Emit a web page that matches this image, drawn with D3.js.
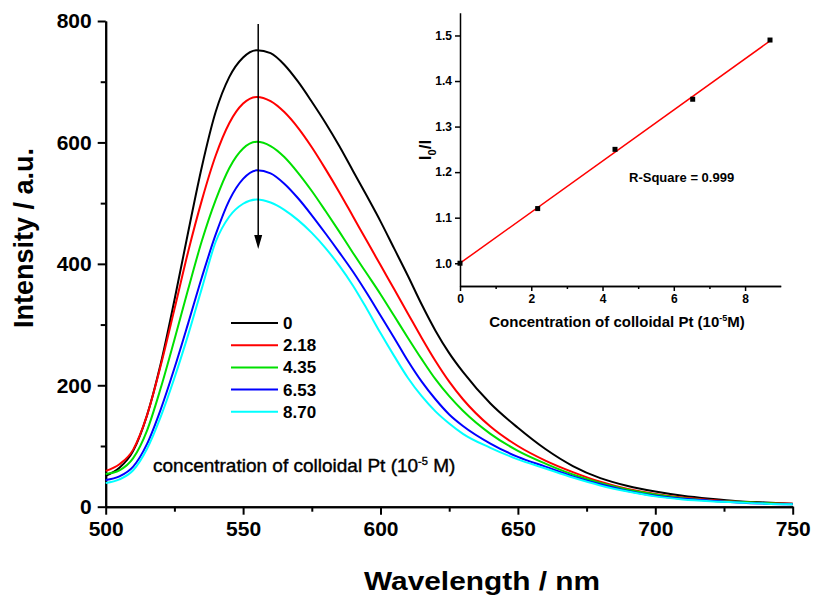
<!DOCTYPE html>
<html lang="en">
<head>
<meta charset="utf-8">
<title>Fluorescence quenching</title>
<script src="https://d3js.org/d3.v7.min.js"></script>
<style>
  html, body { margin: 0; background: #fff; }
  svg { display: block; font-family: "Liberation Sans", Arial, sans-serif; }
  .axis path, .axis line { stroke: #000; stroke-width: 2px; }
  .axis text { font-weight: bold; fill: #000; }
  .inset .axis path, .inset .axis line { stroke-width: 1.5px; }
</style>
</head>
<body>
<svg width="814" height="595"></svg>
<script>
// emission spectra, wavelength in nm
var wavelengths = [500,505,510,515,520,525,530,535,540,545,550,555,560,565,570,575,580,585,590,595,
  600,605,610,615,620,625,630,640,650,660,670,680,690,700,710,720,730,740,750];
var concLabels = ["0", "2.18", "4.35", "6.53", "8.70"];
var colors = ["#000000", "#ff0000", "#00e000", "#0000ff", "#00ffff"];
var spectra = [
  [51,64,92,150,235,340,452,560,650,708,740,752,747,728,700,667,632,594,553,512,470,425,380,333,290,253,222,170,130,95,67,47,34,25,18,13,9,7,5],
  [59,70,94,150,232,325,420,505,578,632,664,675,668,650,624,592,556,518,478,438,398,358,318,278,240,206,177,132,100,76,57,41,29,21,15,11,8,6,5],
  [54,60,80,125,195,275,358,438,505,558,590,601,594,576,550,520,487,453,418,384,350,314,278,243,210,182,158,120,92,71,53,39,28,20,14,10,8,6,4],
  [44,50,66,103,160,228,302,378,448,505,540,554,549,532,508,480,450,419,387,352,315,278,240,206,177,152,133,104,82,66,50,37,26,18,13,10,7,5,4],
  [39,45,60,95,148,212,283,360,436,478,499,506,501,489,472,451,426,397,364,326,286,248,212,182,157,137,120,97,78,63,48,35,25,17,12,9,7,5,4]
];
var mainXTicks = [500, 550, 600, 650, 700, 750];
var mainYTicks = [0, 200, 400, 600, 800];

// inset: I0/I vs concentration
var insetConc = [0, 2.18, 4.35, 6.53, 8.70];
var insetRatio = [1.0, 1.12, 1.25, 1.36, 1.49];
var fitLine = [[0, 1.0], [8.7, 1.488]];
var insetXTicks = [0, 2, 4, 6, 8];
var insetYTicks = [1.0, 1.1, 1.2, 1.3, 1.4, 1.5];

var svg = d3.select("svg");

// ---- main plot ----
var x = d3.scaleLinear().domain([500, 750]).range([105.7, 792.7]);
var y = d3.scaleLinear().domain([0, 800]).range([506.7, 21]);

var g = svg.append("g");

g.append("g").attr("class", "axis")
  .attr("transform", "translate(0," + y(0) + ")")
  .call(d3.axisBottom(x).tickValues([525, 575, 625, 675, 725]).tickSize(5).tickSizeOuter(0).tickFormat(""));
g.append("g").attr("class", "axis")
  .attr("transform", "translate(0," + y(0) + ")")
  .call(d3.axisBottom(x).tickValues(mainXTicks).tickSize(8).tickSizeOuter(0).tickPadding(6))
  .selectAll("text").style("font-size", "21px");

g.append("g").attr("class", "axis")
  .attr("transform", "translate(" + x(500) + ",0)")
  .call(d3.axisLeft(y).tickValues([100, 300, 500, 700]).tickSize(5).tickSizeOuter(0).tickFormat(""));
g.append("g").attr("class", "axis")
  .attr("transform", "translate(" + x(500) + ",0)")
  .call(d3.axisLeft(y).tickValues(mainYTicks).tickSize(8).tickSizeOuter(0).tickPadding(6))
  .selectAll("text").style("font-size", "21px");

var line = d3.line()
  .x(function(d) { return x(d[0]); })
  .y(function(d) { return y(d[1]); })
  .curve(d3.curveMonotoneX);

spectra.forEach(function(s, i) {
  g.append("path")
    .datum(wavelengths.map(function(w, j) { return [w, s[j]]; }))
    .attr("fill", "none")
    .attr("stroke", colors[i])
    .attr("stroke-width", 2)
    .attr("d", line);
});

// arrow through the peaks
g.append("line")
  .attr("x1", x(555.5)).attr("x2", x(555.5))
  .attr("y1", 24).attr("y2", 240)
  .attr("stroke", "#000").attr("stroke-width", 1.5);
g.append("path")
  .attr("d", "M" + (x(555.5) - 4) + ",235 L" + (x(555.5) + 4) + ",235 L" + x(555.5) + ",249 Z")
  .attr("fill", "#000");

// legend
var legend = g.append("g").attr("transform", "translate(231,323)");
concLabels.forEach(function(lab, i) {
  legend.append("line")
    .attr("x1", 0).attr("x2", 47)
    .attr("y1", i * 22.2).attr("y2", i * 22.2)
    .attr("stroke", colors[i]).attr("stroke-width", 2);
  legend.append("text")
    .attr("x", 52).attr("y", i * 22.2 + 6)
    .style("font-size", "17px").style("font-weight", "bold")
    .text(lab);
});

var note = g.append("text").attr("x", 153).attr("y", 471.5)
  .style("font-size", "19px")
  .attr("stroke", "#000").attr("stroke-width", 0.4);
note.append("tspan").text("concentration of colloidal Pt (10");
note.append("tspan").attr("dy", -7).style("font-size", "11px").text("-5");
note.append("tspan").attr("dy", 7).text(" M)");

g.append("text")
  .attr("x", 482).attr("y", 590)
  .attr("text-anchor", "middle")
  .attr("textLength", 236).attr("lengthAdjust", "spacingAndGlyphs")
  .style("font-size", "26px").style("font-weight", "bold")
  .text("Wavelength / nm");

g.append("text")
  .attr("transform", "translate(33,238) rotate(-90)")
  .attr("text-anchor", "middle")
  .style("font-size", "27px").style("font-weight", "bold")
  .text("Intensity / a.u.");

// ---- inset ----
var ix = d3.scaleLinear().domain([0, 9]).range([460, 780.7]);
var iy = d3.scaleLinear().domain([0.95, 1.55]).range([286, 12.7]);
var inset = svg.append("g").attr("class", "inset");

inset.append("g").attr("class", "axis")
  .attr("transform", "translate(0," + iy(0.95) + ")")
  .call(d3.axisBottom(ix).tickValues([1, 3, 5, 7]).tickSize(3).tickSizeOuter(0).tickFormat(""));
inset.append("g").attr("class", "axis")
  .attr("transform", "translate(0," + iy(0.95) + ")")
  .call(d3.axisBottom(ix).tickValues(insetXTicks).tickSize(5).tickSizeOuter(0).tickPadding(3))
  .selectAll("text").style("font-size", "12px");

inset.append("g").attr("class", "axis")
  .attr("transform", "translate(" + ix(0) + ",0)")
  .call(d3.axisLeft(iy).tickValues(insetYTicks).tickSize(5).tickSizeOuter(0).tickPadding(3)
    .tickFormat(d3.format(".1f")))
  .selectAll("text").style("font-size", "12px");

inset.append("path")
  .datum(fitLine)
  .attr("fill", "none").attr("stroke", "#ff0000").attr("stroke-width", 1.5)
  .attr("d", d3.line().x(function(d) { return ix(d[0]); }).y(function(d) { return iy(d[1]); }));

inset.selectAll("rect.pt")
  .data(insetConc.map(function(c, i) { return [c, insetRatio[i]]; }))
  .enter().append("rect")
  .attr("class", "pt")
  .attr("x", function(d) { return ix(d[0]) - 2.5; })
  .attr("y", function(d) { return iy(d[1]) - 2.5; })
  .attr("width", 5).attr("height", 5)
  .attr("fill", "#000");

inset.append("text")
  .attr("x", 629).attr("y", 182)
  .style("font-size", "13px").style("font-weight", "bold")
  .text("R-Square = 0.999");

var ixl = inset.append("text")
  .attr("x", 617).attr("y", 327)
  .attr("text-anchor", "middle")
  .style("font-size", "15px").style("font-weight", "bold");
ixl.append("tspan").text("Concentration of colloidal Pt (10");
ixl.append("tspan").attr("dy", -6).style("font-size", "9px").text("-5");
ixl.append("tspan").attr("dy", 6).text("M)");

var iyl = inset.append("text")
  .attr("transform", "translate(431,150) rotate(-90)")
  .attr("text-anchor", "middle")
  .style("font-size", "17px").style("font-weight", "bold");
iyl.append("tspan").text("I");
iyl.append("tspan").attr("dy", 5).style("font-size", "11px").text("0");
iyl.append("tspan").attr("dy", -5).text("/I");
</script>
</body>
</html>
